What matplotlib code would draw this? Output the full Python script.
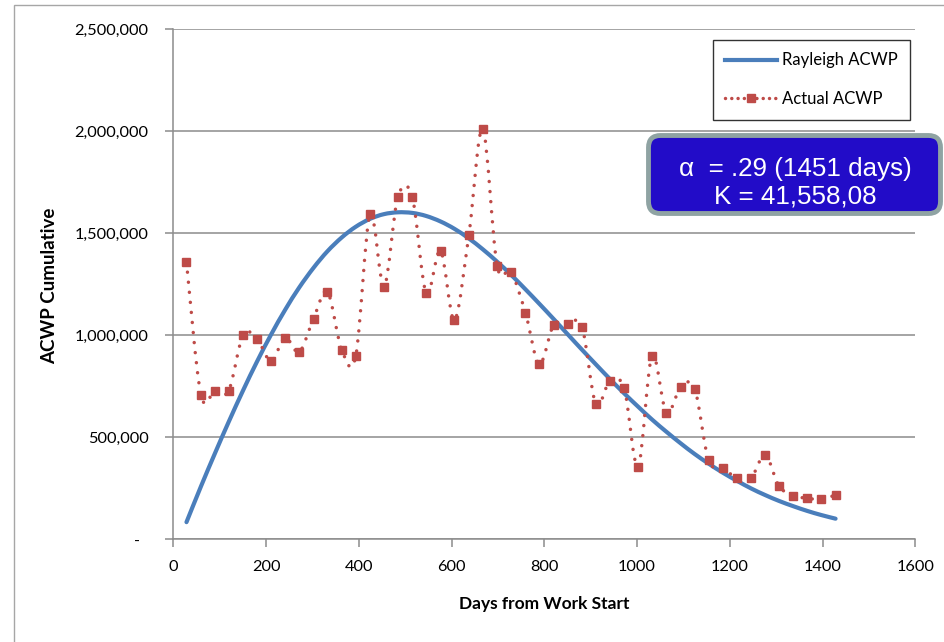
import numpy as np
import matplotlib
matplotlib.use("Agg")
import matplotlib.pyplot as plt
from matplotlib.path import Path
from matplotlib.patches import PathPatch, FancyBboxPatch, Rectangle
from matplotlib.lines import Line2D
from matplotlib.ticker import FuncFormatter
from matplotlib.transforms import IdentityTransform

plt.rcParams["font.family"] = ["Lato", "DejaVu Sans"]

# Monthly reporting points (days from work start)
days = [28, 59, 89, 119, 150, 180, 210, 241, 271, 302, 332, 363, 393, 424, 454,
        484, 515, 545, 576, 606, 637, 667, 698, 728, 759, 789, 820, 850, 881,
        911, 941, 972, 1002, 1032, 1063, 1094, 1124, 1154, 1185, 1215, 1246,
        1276, 1306, 1337, 1367, 1397, 1428]

# Rayleigh model ACWP at each reporting point
rayleigh_acwp = [84000, 258000, 419000, 575000, 729000, 870000, 1001000,
                 1125000, 1233000, 1330000, 1411000, 1479000, 1531000, 1570000,
                 1593000, 1602000, 1599000, 1584000, 1557000, 1521000, 1474000,
                 1421000, 1360000, 1296000, 1225000, 1154000, 1079000, 1005000,
                 929000, 857000, 786000, 715000, 650000, 587000, 527000, 470000,
                 418000, 371000, 326000, 287000, 249000, 217000, 188000, 162000,
                 139000, 119000, 101000]

# Actual ACWP reported each month
actual_acwp = [1358000, 709000, 727000, 728000, 1000000, 983000, 874000,
               987000, 917000, 1081000, 1212000, 927000, 897000, 1593000,
               1238000, 1677000, 1677000, 1206000, 1413000, 1075000, 1490000,
               2010000, 1341000, 1310000, 1111000, 858000, 1051000, 1055000,
               1041000, 662000, 775000, 740000, 356000, 899000, 621000, 745000,
               738000, 389000, 348000, 302000, 302000, 413000, 261000, 214000,
               201000, 196000, 217000]

x_ticks = [0, 200, 400, 600, 800, 1000, 1200, 1400, 1600]
y_ticks = [0, 500000, 1000000, 1500000, 2000000, 2500000]

BLUE = "#4A7EBB"
RED = "#BE4B48"
GRID = "#8C8C8C"


def smooth_path(x, y):
    """Cubic Bezier path through the points (spreadsheet-style smoothed line)."""
    pts = np.column_stack([x, y]).astype(float)
    n = len(pts)
    verts = [pts[0]]
    codes = [Path.MOVETO]
    for i in range(n - 1):
        p_prev = pts[i - 1] if i > 0 else pts[i]
        p0, p1 = pts[i], pts[i + 1]
        p_next = pts[i + 2] if i + 2 < n else pts[i + 1]
        verts += [p0 + (p1 - p_prev) / 6.0, p1 - (p_next - p0) / 6.0, p1]
        codes += [Path.CURVE4] * 3
    return Path(verts, codes)


W, H = 945, 642
fig = plt.figure(figsize=(W / 100, H / 100), dpi=100)
ax = fig.add_axes([173.5 / W, 1 - 539.3 / H, 741.8 / W, 510.3 / H])

ax.set_xlim(0, 1600)
ax.set_ylim(0, 2500000)
ax.set_xticks(x_ticks)
ax.set_yticks(y_ticks)
ax.yaxis.set_major_formatter(
    FuncFormatter(lambda v, p: "-  " if v == 0 else f"{int(v):,}"))

ax.grid(axis="y", color=GRID, lw=1.1)
ax.set_axisbelow(True)
for side in ("top", "right"):
    ax.spines[side].set_visible(False)
for side in ("left", "bottom"):
    ax.spines[side].set_color(GRID)
    ax.spines[side].set_linewidth(1.1)
ax.tick_params(axis="y", direction="out", length=6, width=1.1, color=GRID,
               pad=12, labelsize=11.8, labelcolor="black")
ax.tick_params(axis="x", direction="out", length=6, width=1.1, color=GRID,
               pad=9, labelsize=11.8, labelcolor="black")

# Rayleigh model curve
ax.add_patch(PathPatch(smooth_path(days, rayleigh_acwp), fill=False,
                       edgecolor=BLUE, lw=3.0, capstyle="round",
                       joinstyle="round", zorder=3))

# Actual ACWP: smoothed dotted line with square markers
ax.add_patch(PathPatch(smooth_path(days, actual_acwp), fill=False,
                       edgecolor=RED, lw=2.5, linestyle=(0, (0.01, 2.9)),
                       capstyle="round", joinstyle="round", zorder=4))
ax.plot(days, actual_acwp, linestyle="none", marker="s", markersize=5.5,
        color=RED, zorder=5)

ax.set_xlabel("Days from Work Start", fontsize=12.5, fontweight="bold")
ax.xaxis.label.set_va("center")
ax.xaxis.set_label_coords(0.5, -0.127)
ax.set_ylabel("ACWP Cumulative", fontsize=13.5, fontweight="bold")
ax.yaxis.label.set_va("center")
ax.yaxis.set_label_coords(-0.1665, 0.497)

handles = [
    Line2D([], [], color=BLUE, lw=3.0),
    Line2D([], [], color=RED, lw=2.5, linestyle=(0, (0.01, 1.8)),
           dash_capstyle="round", marker="s", markersize=5.5),
]
leg = fig.legend(handles, ["Rayleigh ACWP", "Actual ACWP"],
                 loc="upper right", bbox_to_anchor=(910 / W, 1 - 40 / H),
                 borderaxespad=0, fontsize=12, frameon=True, fancybox=False,
                 handlelength=3.1, handletextpad=0.3, labelspacing=1.35,
                 borderpad=0.75)
leg.get_frame().set_edgecolor("black")
leg.get_frame().set_linewidth(1.0)

# Parameter box
box = FancyBboxPatch((648.5, H - 213.5), 292, 78,
                     boxstyle="round,pad=0,rounding_size=12",
                     facecolor="#220CC8", edgecolor="#8FA3A3", lw=3.5,
                     transform=IdentityTransform())
fig.add_artist(box)
fig.text(795.5 / W, 1 - 182.7 / H, "α  = .29 (1451 days)\nK = 41,558,08",
         ha="center", va="center", multialignment="center", color="white",
         fontsize=18.7, linespacing=1.15,
         family=["Liberation Sans", "DejaVu Sans"])

# Chart-area border
fig.add_artist(Rectangle((14 / W, -0.1), 1.2, 1.1 - 4.5 / H,
                         transform=fig.transFigure, fill=False,
                         edgecolor="#A6A6A6", lw=1.0))

fig.savefig("out.png", dpi=100)
